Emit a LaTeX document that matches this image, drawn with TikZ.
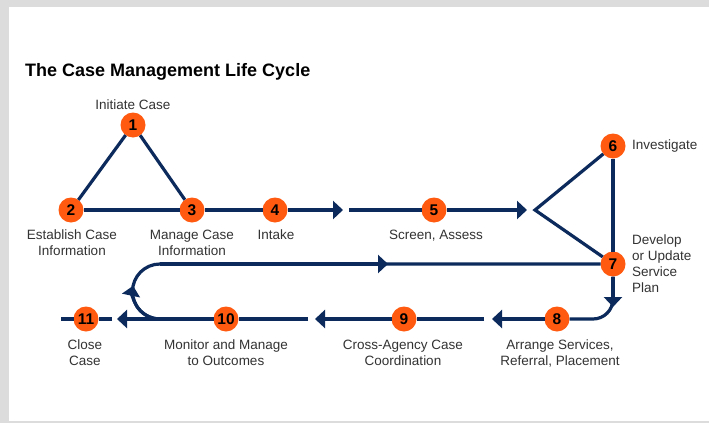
\documentclass[tikz,border=0pt]{standalone}
\usepackage{fontspec}
\setmainfont{Liberation Sans}
\usetikzlibrary{arrows.meta}

\definecolor{navy}{HTML}{0C2B5C}
\definecolor{dotorange}{HTML}{FF5A0F}
\definecolor{framegrey}{HTML}{DCDCDC}
\definecolor{labelgrey}{HTML}{333333}

\tikzset{
  numdot/.style={circle,fill=dotorange,text=black,minimum size=25pt,inner sep=0pt,outer sep=0pt,font=\fontsize{15.5}{15.5}\selectfont\bfseries},
  flow/.style={draw=navy,line width=3.2pt},
  arrowend/.style={-{Triangle[length=10pt,width=18pt]}},
  lbl/.style={font=\fontsize{13.5}{16}\selectfont,text=labelgrey,align=center,inner sep=0pt}
}

\begin{document}
\begin{tikzpicture}[x=1pt,y=1pt,yscale=-1]
  %frame round the card
  \fill[framegrey] (0,0) rectangle (709,423);
  \fill[white] (9,7) rectangle (709,421);
  \useasboundingbox (0,0) rectangle (709,423);
  % Title
  \node[anchor=base west,inner sep=0pt,font=\fontsize{18}{20}\selectfont\bfseries] (title) at (25,76) {The Case Management Life Cycle};
  % Step dots
  \node[numdot] (n1) at (133,125) {1};
  \node[numdot] (n2) at (71,210) {2};
  \node[numdot] (n3) at (192,210) {3};
  \node[numdot] (n4) at (275,210) {4};
  \node[numdot] (n5) at (434,210) {5};
  \node[numdot] (n6) at (613,146) {6};
  \node[numdot] (n7) at (613,264) {7};
  \node[numdot] (n8) at (557,319) {8};
  \node[numdot] (n9) at (404,319) {9};
  \node[numdot] (n10) at (226,319) {10};
  \node[numdot] (n11) at (86,319) {11};
  % Free ends of the lines
  \coordinate (t4) at (343,210);
  \coordinate (s5) at (349,210);
  \coordinate (t5) at (527,210);
  \coordinate (v) at (535,210);
  \coordinate (c7) at (613,307);
  \coordinate (t8) at (492,319);
  \coordinate (s9) at (484,319);
  \coordinate (t9) at (315,319);
  \coordinate (s10) at (308,319);
  \coordinate (t10) at (117,319);
  \coordinate (s11) at (112,319);
  \coordinate (e11) at (61,319);
  \coordinate (l0) at (160,319);
  \coordinate (l2) at (160,264);
  \coordinate (t7) at (388,264);
  % Top row
  \draw[flow] (n1) -- (n2);
  \draw[flow] (n1) -- (n3);
  \draw[flow,arrowend] (n2) -- (n3) -- (n4) -- (t4);
  \draw[flow,arrowend] (s5) -- (n5) -- (t5);
  \draw[flow,line join=miter] (n6) -- (v) -- (n7);
  \draw[flow] (n6) -- (n7);
  % Down to the bottom row
  \draw[flow,rounded corners=20pt] (n7) |- (n8);
  \draw[flow,arrowend] (n7) -- (c7);
  % Bottom row
  \draw[flow,arrowend] (n8) -- (t8);
  \draw[flow,arrowend] (s9) -- (n9) -- (t9);
  \draw[flow,arrowend] (s10) -- (n10) -- (t10);
  \draw[flow] (s11) -- (n11) -- (e11);
  % Loop back up to 7
  \draw[flow] (l0) arc[start angle=90,end angle=270,radius=27.5] -- (n7);
  \draw[flow,arrowend] (l0) arc[start angle=90,end angle=192,radius=27.5];
  \draw[flow,arrowend] (l2) -- (t7);
  % Text Nodes
  \node[lbl,anchor=base] (lb1) at (133,109) {Initiate Case};
  \node[lbl,anchor=north] (lb2) at (72,230) {Establish Case\\Information};
  \node[lbl,anchor=north] (lb3) at (192,230) {Manage Case\\Information};
  \node[lbl,anchor=north] (lb4) at (276,230) {Intake};
  \node[lbl,anchor=north] (lb5) at (436,230) {Screen, Assess};
  \node[lbl,anchor=west] (lb6) at (632,146) {Investigate};
  \node[lbl,anchor=west,align=left] (lb7) at (632,264) {Develop\\or Update\\Service\\Plan};
  \node[lbl,anchor=north] (lb8) at (560,340) {Arrange Services,\\Referral, Placement};
  \node[lbl,anchor=north] (lb9) at (403,340) {Cross-Agency Case\\Coordination};
  \node[lbl,anchor=north] (lb10) at (226,340) {Monitor and Manage\\to Outcomes};
  \node[lbl,anchor=north] (lb11) at (85,340) {Close\\Case};
\end{tikzpicture}
\end{document}
